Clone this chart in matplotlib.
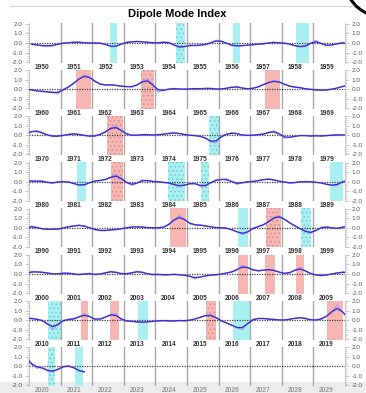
import numpy as np
import pandas as pd
import matplotlib.pyplot as plt
from matplotlib.lines import Line2D
from matplotlib.patches import Rectangle
from matplotlib.ticker import MultipleLocator

plt.rcParams['font.family'] = ['Liberation Sans', 'DejaVu Sans']
plt.rcParams['hatch.linewidth'] = 0.6

# DMI, 6 values per year (Jan/Feb ... Nov/Dec)
dmi_1950s = [-0.1, -0.2, -0.3, -0.3, -0.3, -0.1,
             0.0, 0.0, 0.1, 0.1, 0.0, 0.0,
             0.0, 0.0, -0.1, -0.4, -0.4, -0.1,
             0.1, 0.1, 0.2, 0.1, 0.1, 0.0,
             0.0, 0.1, 0.1, -0.2, -0.5, -0.4,
             -0.2, -0.3, -0.2, -0.2, 0.0, 0.3,
             0.2, 0.0, -0.3, -0.3, -0.3, -0.2,
             -0.2, -0.1, -0.1, 0.0, 0.1, 0.0,
             0.0, -0.1, -0.3, -0.4, -0.4, 0.0,
             0.3, -0.1, -0.3, -0.2, -0.1, 0.1]
dmi_1960s = [-0.1, -0.2, -0.2, -0.3, -0.3, -0.5,
             0.0, 0.2, 0.6, 1.1, 1.5, 1.3,
             0.8, 0.5, 0.4, 0.5, 0.4, 0.3,
             0.3, 0.2, 0.4, 0.8, 1.1, 0.5,
             -0.3, -0.1, 0.0, 0.1, 0.0, 0.0,
             0.0, 0.1, 0.0, 0.1, 0.1, 0.0,
             0.0, 0.1, 0.2, 0.3, 0.1, 0.0,
             0.1, 0.2, 0.5, 0.7, 0.9, 0.8,
             0.5, 0.3, 0.2, 0.2, 0.0, 0.0,
             -0.1, -0.1, -0.1, 0.0, 0.1, 0.3]
dmi_1970s = [0.4, 0.5, 0.3, 0.0, -0.1, -0.1,
             0.0, 0.1, 0.2, 0.1, 0.0, -0.1,
             -0.1, 0.1, 0.3, 0.8, 1.0, 0.5,
             0.1, 0.0, 0.0, 0.1, 0.1, 0.0,
             0.1, 0.1, 0.2, 0.3, 0.2, 0.1,
             0.0, 0.0, -0.1, -0.2, -0.7, -0.8,
             0.0, 0.1, 0.3, 0.2, 0.0, 0.0,
             0.0, 0.1, 0.1, 0.3, 0.5, 0.2,
             -0.3, -0.2, -0.1, 0.0, 0.0, -0.1,
             0.0, -0.1, 0.0, 0.0, 0.1, 0.0]
dmi_1980s = [0.1, 0.0, 0.1, -0.1, -0.2, 0.0,
             0.0, 0.0, -0.2, -0.4, -0.4, -0.1,
             0.1, 0.1, 0.2, 0.4, 0.8, 0.3,
             -0.1, -0.4, -0.2, 0.2, 0.1, 0.0,
             0.0, -0.1, -0.1, -0.3, -0.5, -0.4,
             -0.2, -0.1, -0.5, -0.5, -0.1, 0.2,
             0.2, 0.3, 0.0, -0.3, -0.1, 0.0,
             0.0, 0.1, 0.2, 0.3, 0.2, 0.0,
             0.0, -0.2, -0.1, 0.0, 0.0, 0.0,
             -0.1, -0.1, -0.3, -0.4, -0.4, 0.0]
dmi_1990s = [0.2, 0.0, -0.1, -0.2, -0.1, -0.2,
             0.0, 0.1, 0.2, 0.3, 0.2, 0.0,
             -0.2, -0.3, -0.3, -0.2, -0.2, -0.1,
             0.0, 0.1, 0.1, 0.1, 0.0, 0.0,
             0.0, 0.0, 0.3, 0.8, 1.3, 0.9,
             0.4, 0.3, 0.3, 0.2, 0.1, 0.0,
             0.0, 0.0, -0.2, -0.4, -0.7, -0.5,
             0.0, 0.1, 0.3, 0.6, 1.1, 1.3,
             0.9, 0.5, 0.2, -0.1, -0.4, -0.6,
             -0.3, 0.1, 0.1, 0.0, -0.1, 0.0]
dmi_2000s = [0.3, 0.2, 0.2, 0.1, 0.0, 0.0,
             0.1, 0.1, 0.0, -0.1, 0.0, 0.1,
             -0.1, 0.0, 0.1, 0.3, 0.2, 0.0,
             0.0, 0.1, 0.3, 0.2, 0.0, -0.1,
             0.0, -0.1, -0.1, 0.0, -0.1, -0.1,
             -0.2, -0.5, -0.3, -0.2, -0.1, -0.1,
             0.0, 0.1, 0.2, 0.4, 0.9, 0.7,
             0.4, 0.3, 0.4, 0.5, 0.4, 0.2,
             0.0, 0.1, 0.4, 0.7, 0.3, 0.0,
             -0.1, -0.2, -0.1, 0.0, 0.1, 0.2]
dmi_2010s = [0.2, 0.1, 0.0, -0.3, -1.0, -0.4,
             0.0, 0.1, 0.1, 0.3, 0.7, 0.4,
             0.0, 0.1, 0.3, 0.6, 0.7, 0.0,
             -0.1, -0.1, -0.2, -0.2, -0.2, -0.1,
             -0.1, 0.0, -0.1, -0.1, 0.0, -0.1,
             0.0, 0.1, 0.3, 0.5, 0.6, 0.3,
             -0.1, -0.3, -0.5, -0.8, -1.0, -0.3,
             0.1, 0.2, 0.2, 0.1, 0.1, 0.0,
             0.0, 0.1, 0.2, 0.3, 0.2, 0.0,
             0.0, 0.1, 0.4, 0.8, 1.6, 0.9]
dmi_2020s = [0.2, -0.2, 0.0, -0.5, -0.6, -0.3,
             0.0, 0.1, -0.1, -0.5, -0.6]

decades = [1950, 1960, 1970, 1980, 1990, 2000, 2010, 2020]

# IOD events: start / end (decimal year), sign, stippled or not
event_start = [1952.57, 1954.65, 1956.46, 1958.45, 1961.49, 1963.54, 1967.47,
               1972.47, 1975.70, 1981.52, 1982.60, 1984.40, 1985.44, 1989.53,
               1994.46, 1996.61, 1997.50, 1998.61, 2006.61, 2007.47, 2008.45,
               2010.60, 2011.65, 2012.56, 2013.45, 2015.60, 2016.46, 2019.43,
               2020.60, 2021.46]
event_end = [1952.79, 1954.94, 1956.68, 1958.86, 1961.96, 1963.96, 1967.94,
             1972.97, 1976.00, 1981.80, 1982.97, 1984.94, 1985.70, 1989.94,
             1994.97, 1996.93, 1997.98, 1998.92, 2006.93, 2007.78, 2008.70,
             2011.00, 2011.87, 2012.85, 2013.77, 2015.92, 2017.00, 2019.94,
             2020.82, 2021.71]
event_sign = ['-', '-', '-', '-', '+', '+', '+',
              '+', '-', '-', '+', '-', '-', '-',
              '+', '-', '+', '-', '+', '+', '+',
              '-', '+', '+', '-', '+', '-', '+',
              '-', '-']
event_dotted = [0, 1, 0, 0, 0, 1, 0,
                1, 1, 0, 1, 1, 1, 0,
                0, 0, 1, 1, 0, 0, 0,
                1, 0, 0, 0, 1, 0, 0,
                1, 0]

values = dmi_1950s + dmi_1960s + dmi_1970s + dmi_1980s + dmi_1990s + dmi_2000s + dmi_2010s + dmi_2020s
times = 1950 + (np.arange(len(values)) + 0.5) / 6.0
raw = pd.Series(values, index=times)
# thick line: light running mean, like the smoothed index in the original
smooth = raw.rolling(3, center=True, min_periods=1, win_type='triang').mean()

W, H = 366, 393
fig = plt.figure(figsize=(W / 100, H / 100), dpi=100)

# bottom grey band and top rule (screenshot look)
fig.add_artist(Rectangle((0, 0), 1, 11 / H, transform=fig.transFigure,
                         facecolor='#ececec', edgecolor='none', zorder=-5))
fig.add_artist(Line2D([10 / W, 352 / W], [1 - 6 / H, 1 - 6 / H], color='#d8d8d8', lw=0.8))
fig.add_artist(Line2D(np.array([351, 356, 361, 366]) / W, 1 - np.array([0, 6, 10, 13]) / H,
                      color='black', lw=2.2, solid_capstyle='round'))

fig.text(177 / W, 1 - 14 / H, 'Dipole Mode Index', ha='center', va='center',
         fontsize=8, fontweight='bold')

pink, pink_dot = '#f6b6b2', '#d98a88'
cyan, cyan_dot = '#aaf0f3', '#6cc9cf'

for k, d in enumerate(decades):
    top = 23.5 + 46.2 * k
    h = 39
    ax = fig.add_axes([29 / W, 1 - (top + h) / H, 316 / W, h / H])
    ax.set_facecolor('none')
    ax.set_xlim(d, d + 10)
    ax.set_ylim(-2.05, 2.05)

    for s, e, sg, dt in zip(event_start, event_end, event_sign, event_dotted):
        if d <= s < d + 10:
            fc = pink if sg == '+' else cyan
            ec = pink_dot if sg == '+' else cyan_dot
            ax.axvspan(s, e, facecolor=fc, edgecolor=ec if dt else fc,
                       hatch='....' if dt else None, lw=0, zorder=0)

    for y in range(d + 1, d + 10):
        ax.axvline(y, color='#a8a8a8', lw=1.0, zorder=1)
    ax.axhline(0, color='#444444', lw=0.9, ls=(0, (1, 1)), zorder=2)

    ax.plot(raw.index, raw.values, color='#a99cf2', lw=0.8, zorder=3)
    ax.plot(smooth.index, smooth.values, color='#3b2fcf', lw=1.0, zorder=4)

    for side in ['top', 'bottom']:
        ax.spines[side].set_visible(False)
    for side in ['left', 'right']:
        ax.spines[side].set_color('#b0b0b0')
        ax.spines[side].set_linewidth(0.5)
    ax.set_xticks([])
    ax.set_yticks([-2, -1, 0, 1, 2])
    ax.set_yticklabels(['-2.0', '-1.0', '0.0', '1.0', '2.0'])
    ax.yaxis.set_minor_locator(MultipleLocator(0.2))
    ax.tick_params(axis='y', which='both', left=True, right=True,
                   labelleft=True, labelright=True, direction='out',
                   colors='#b0b0b0', labelcolor='#555555', labelsize=4.6, pad=1.5)
    ax.tick_params(axis='y', which='major', length=3, width=0.5)
    ax.tick_params(axis='y', which='minor', length=1.5, width=0.4)

    lab_color = '#999999' if d == 2020 else '#333333'
    for i in range(10):
        ax.text(d + i + 0.42, -0.03, str(d + i), transform=ax.get_xaxis_transform(),
                ha='center', va='top', fontsize=4.8, fontweight='bold', color=lab_color)

fig.savefig('out.png', dpi=100)
